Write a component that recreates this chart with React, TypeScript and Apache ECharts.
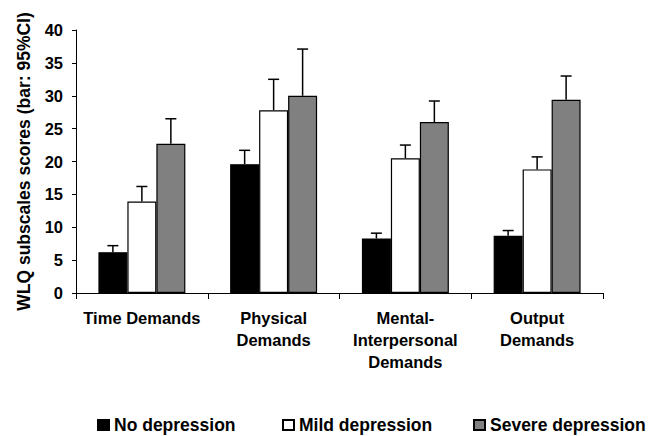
import React, { useEffect, useRef } from "react";
import * as echarts from "echarts";

const categories = ["Time Demands", "Physical\nDemands", "Mental-\nInterpersonal\nDemands", "Output\nDemands"];
const seriesNames = ["No depression", "Mild depression", "Severe depression"];
const noDepression = [6.2, 19.6, 8.3, 8.7];
const noDepressionUpper = [7.2, 21.7, 9.1, 9.5];
const mildDepression = [13.9, 27.8, 20.5, 18.8];
const mildDepressionUpper = [16.2, 32.5, 22.5, 20.7];
const severeDepression = [22.7, 30.0, 26.0, 29.4];
const severeDepressionUpper = [26.5, 37.1, 29.2, 33.0];
const yTicks = { min: 0, max: 40, interval: 5 };

const colors = ["#000000", "#ffffff", "#808080"];

export default function App() {
  const ref = useRef<HTMLDivElement>(null);
  useEffect(() => {
    if (!ref.current) return;
    const chart = echarts.init(ref.current, undefined, { renderer: "svg" });
    const means = [noDepression, mildDepression, severeDepression];
    const uppers = [noDepressionUpper, mildDepressionUpper, severeDepressionUpper];
    const errData: number[][] = [];
    means.forEach((arr, s) => arr.forEach((v, i) => errData.push([i, v, uppers[s][i], s])));
    const font = "'Liberation Sans', Arial, sans-serif";
    const legendPos = [97, 282, 473];
    chart.setOption({
      animation: false,
      textStyle: { fontFamily: font, color: "#000" },
      grid: { left: 76, right: 48, top: 30, bottom: 143 },
      legend: seriesNames.map((n, i) => ({
        data: [n],
        left: legendPos[i],
        top: 416,
        padding: 0,
        itemWidth: 11,
        itemHeight: 10,
        itemGap: 0,
        icon: "rect",
        selectedMode: false,
        textStyle: { fontFamily: font, fontSize: 17.5, lineHeight: 18, fontWeight: "bold", color: "#000" },
      })),
      xAxis: {
        type: "category",
        data: categories,
        axisLine: { lineStyle: { color: "#000", width: 1 } },
        axisTick: { show: true, inside: false, length: 6, lineStyle: { color: "#000" } },
        axisLabel: {
          interval: 0,
          margin: 14,
          fontFamily: font,
          fontSize: 16.5,
          fontWeight: "bold",
          color: "#000",
          lineHeight: 22,
        },
      },
      yAxis: {
        type: "value",
        min: yTicks.min,
        max: yTicks.max,
        interval: yTicks.interval,
        name: "WLQ subscales scores (bar: 95%CI)",
        nameLocation: "middle",
        nameGap: 43,
        nameTextStyle: { fontFamily: font, fontSize: 17.5, fontWeight: "bold", color: "#000" },
        axisLine: { show: true, lineStyle: { color: "#000", width: 1 } },
        axisTick: { show: true, length: 4, lineStyle: { color: "#000" } },
        splitLine: { show: false },
        axisLabel: { margin: 13, fontFamily: font, fontSize: 16.5, fontWeight: "bold", color: "#000" },
      },
      series: [
        ...seriesNames.map((n, s) => ({
          name: n,
          type: "bar",
          data: means[s],
          barGap: "0%",
          barCategoryGap: "34%",
          itemStyle: { color: colors[s], borderColor: "#000", borderWidth: 1.2 },
        })),
        {
          type: "custom",
          data: errData,
          encode: { x: 0, y: 2 },
          z: 5,
          renderItem: (params: any, api: any) => {
            const i = api.value(0);
            const mean = api.value(1);
            const up = api.value(2);
            const s = api.value(3);
            const band = api.size([1, 0])[0];
            const bw = (band * 0.66) / 3;
            const base = api.coord([i, mean]);
            const top = api.coord([i, up]);
            const x = base[0] + (s - 1) * bw;
            const cap = 5.5;
            const style = { stroke: "#000", lineWidth: 1.5, fill: "none" };
            return {
              type: "group",
              children: [
                { type: "line", shape: { x1: x, y1: base[1], x2: x, y2: top[1] }, style },
                { type: "line", shape: { x1: x - cap, y1: top[1], x2: x + cap, y2: top[1] }, style },
              ],
            };
          },
        },
      ],
    });
    return () => chart.dispose();
  }, []);
  return <div ref={ref} style={{ width: 651, height: 436, position: "absolute", left: 0, top: 0 }} />;
}
